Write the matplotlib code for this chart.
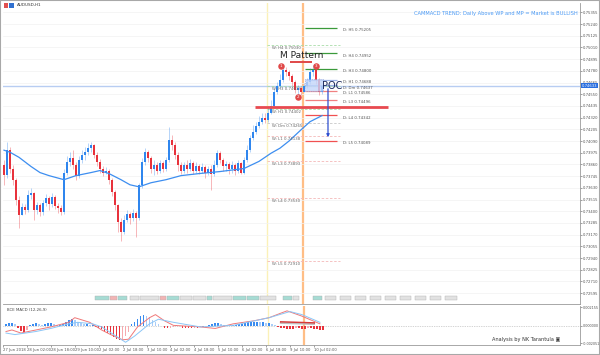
import numpy as np
import matplotlib.pyplot as plt
from matplotlib.patches import Rectangle

# AUDUSD H1 candles (oldest first)
first_open = 0.7385
close = [0.7376, 0.7400, 0.7382, 0.7371, 0.7351, 0.7336, 0.7344, 0.7341, 0.7356, 0.7358,
         0.7341, 0.7346, 0.7339, 0.7348, 0.7353, 0.7347, 0.7354, 0.7345, 0.7343, 0.7339,
         0.7378, 0.7388, 0.7392, 0.7385, 0.7375, 0.7390, 0.7395, 0.7398, 0.7402, 0.7405,
         0.7395, 0.7388, 0.7382, 0.7378, 0.7380, 0.7371, 0.7359, 0.7346, 0.7329, 0.7320,
         0.7331, 0.7337, 0.7333, 0.7338, 0.7333, 0.7366, 0.7388, 0.7398, 0.7392, 0.7382,
         0.7385, 0.7380, 0.7387, 0.7382, 0.7390, 0.7410, 0.7405, 0.7395, 0.7385, 0.7380,
         0.7385, 0.7382, 0.7387, 0.7380, 0.7384, 0.7380, 0.7383, 0.7378, 0.7382, 0.7377,
         0.7385, 0.7397, 0.7390, 0.7384, 0.7386, 0.7382, 0.7385, 0.7380, 0.7387, 0.7378,
         0.7390, 0.7400, 0.7412, 0.7418, 0.7424, 0.7428, 0.7432, 0.7430, 0.7437, 0.7443,
         0.7457, 0.7463, 0.7469, 0.7479, 0.7477, 0.7473, 0.7467, 0.7459, 0.7461, 0.7457,
         0.7463, 0.7467, 0.7477, 0.7479, 0.7469, 0.7457, 0.7463]
high = [0.7390, 0.7408, 0.7403, 0.7385, 0.7373, 0.7355, 0.7348, 0.7347, 0.7361, 0.7363,
        0.7359, 0.7349, 0.7348, 0.7351, 0.7357, 0.7355, 0.7358, 0.7356, 0.7348, 0.7346,
        0.7382, 0.7394, 0.7398, 0.7400, 0.7388, 0.7394, 0.7400, 0.7403, 0.7407, 0.7408,
        0.7406, 0.7398, 0.7391, 0.7384, 0.7383, 0.7382, 0.7373, 0.7361, 0.7347, 0.7333,
        0.7336, 0.7341, 0.7339, 0.7342, 0.7340, 0.7368, 0.7392, 0.7402, 0.7400, 0.7394,
        0.7390, 0.7388, 0.7390, 0.7389, 0.7393, 0.7423, 0.7415, 0.7408, 0.7398, 0.7388,
        0.7388, 0.7390, 0.7391, 0.7389, 0.7388, 0.7386, 0.7387, 0.7385, 0.7384, 0.7385,
        0.7390, 0.7400, 0.7399, 0.7392, 0.7389, 0.7388, 0.7389, 0.7387, 0.7390, 0.7388,
        0.7393, 0.7405, 0.7415, 0.7425, 0.7428, 0.7434, 0.7437, 0.7437, 0.7442, 0.7449,
        0.7461, 0.7467, 0.7475, 0.7484, 0.7482, 0.7479, 0.7475, 0.7469, 0.7464, 0.7463,
        0.7466, 0.7471, 0.7481, 0.7484, 0.7481, 0.7471, 0.7464]
low = [0.7366, 0.7373, 0.7378, 0.7366, 0.7346, 0.7324, 0.7337, 0.7337, 0.7339, 0.7352,
       0.7331, 0.7337, 0.7335, 0.7336, 0.7345, 0.7341, 0.7344, 0.7342, 0.7338, 0.7336,
       0.7337, 0.7376, 0.7384, 0.7382, 0.7371, 0.7373, 0.7387, 0.7390, 0.7395, 0.7398,
       0.7392, 0.7384, 0.7378, 0.7375, 0.7377, 0.7367, 0.7355, 0.7341, 0.7320, 0.7311,
       0.7318, 0.7329, 0.7327, 0.7330, 0.7315, 0.7331, 0.7363, 0.7385, 0.7388, 0.7378,
       0.7376, 0.7377, 0.7378, 0.7379, 0.7380, 0.7388, 0.7400, 0.7391, 0.7380, 0.7377,
       0.7378, 0.7378, 0.7380, 0.7377, 0.7378, 0.7377, 0.7378, 0.7373, 0.7376, 0.7361,
       0.7375, 0.7383, 0.7387, 0.7380, 0.7380, 0.7377, 0.7378, 0.7376, 0.7378, 0.7377,
       0.7377, 0.7388, 0.7398, 0.7410, 0.7416, 0.7422, 0.7426, 0.7427, 0.7428, 0.7436,
       0.7441, 0.7455, 0.7461, 0.7467, 0.7473, 0.7469, 0.7463, 0.7456, 0.7452, 0.7454,
       0.7457, 0.7461, 0.7465, 0.7473, 0.7465, 0.7454, 0.7455]

# moving average, read at some bars
ma_bar = [0, 2, 5, 9, 12, 15, 20, 24, 29, 32, 35, 39, 42, 45, 49, 54, 59, 65, 72, 80,
          85, 89, 92, 95, 99, 102, 106]
ma_val = [0.7400, 0.7398, 0.7393, 0.7384, 0.7378, 0.7375, 0.7371, 0.7375, 0.7378, 0.7380,
          0.7377, 0.7371, 0.7366, 0.7364, 0.7368, 0.7371, 0.7375, 0.7377, 0.7379, 0.7382,
          0.7389, 0.7397, 0.7402, 0.7409, 0.7420, 0.7428, 0.7434]

current_price = 0.74633

# daily pivot levels
d_names = ["H5", "H4", "H3", "H1", "Dm", "L1", "L3", "L4", "L5"]
d_prices = [0.75205, 0.74952, 0.74800, 0.74688, 0.74637, 0.74586, 0.74496, 0.74342, 0.74089]
d_colors = ["#3a9a3a", "#3a9a3a", "#3a9a3a", "#9db4e8", "#9db4e8", "#f08080",
            "#f08080", "#f05050", "#f05050"]

# weekly pivot levels
w_names = ["H4", "H3", "H1", "Dm", "L1", "L3", "L4", "L5"]
w_prices = [0.75030, 0.74633, 0.74402, 0.74265, 0.74138, 0.73893, 0.73530, 0.72910]

# session tag boxes along the bottom of the price panel (bar units, kind)
tag_start = [30.3, 35.3, 38, 42, 45.3, 52, 54.3, 58.7, 63, 67.7, 69.7, 76.3, 81, 85.3,
             93, 96.3, 103, 107, 112, 117, 122, 127, 132, 137, 142, 147]
tag_end = [35.3, 38, 41.3, 45.3, 52, 54.3, 58.7, 63, 67.7, 69.7, 76.3, 81, 85.3, 91,
           96.3, 98.7, 106.3, 111, 116, 121, 126, 131, 136, 141, 146, 151.3]
tag_kind = ["g", "r", "g", "n", "n", "r", "g", "n", "n", "g", "n", "g", "g", "n",
            "g", "n", "g", "n", "n", "n", "n", "n", "n", "n", "n", "n"]

# MACD panel
hist = [2, 3, 3, 2, -3, -6, -7, -5, 1, 2, 3, 2, 1, 2, 3, 3, 2, 1, 1, 2,
        5, 7, 8, 7, 5, 3, 2, 2, 1, 1,
        -1, -2, -4, -7, -9, -11, -13, -15, -17, -16, -12, -7,
        2, 5, 8, 11, 13, 12, 10, 7, 4, 2, 0,
        -2, -3, -2, -1, 1, 0,
        -2, -3, -3, -3, -2, -2, -1, -1, 0,
        1, 2, 3, 3, 2, 1, 1, 0, 1,
        1, 2, 2, 3,
        4, 4, 5, 5, 4, 4, 3, 3, 2, 1,
        -1, -2, -3, -4, -4, -4, -3, -3, -4, -4, -3, -3, -4, -4, -5, -5]
red_bar = [0, 2, 5, 10, 15, 21, 23, 28, 32, 35, 39, 41, 44, 48, 50, 53, 56, 65, 70, 76,
           83, 88, 92, 94, 99, 105]
red_val = [-6.7, -4.9, -8.5, -4.9, -1.3, 4.1, 9.5, 4.1, -4.9, -10.3, -16.4, -15.7, -1.3,
           9.5, 13.1, 5.9, 0.5, -1.3, -3.1, 2.3, 5.9, 9.5, 14.9, 17.5, 11.3, 2.3]
blue_bar = [0, 3, 10, 15, 21, 24, 29, 32, 36, 40, 43, 48, 51, 56, 65, 76, 88, 95, 99, 105]
blue_val = [-8.5, -10.3, -6.7, -3.1, 2.3, 4.1, 2.3, -1.3, -10.3, -19.3, -12.1, 2.3, 7.7,
            4.1, -1.3, 0.5, 9.5, 16.7, 13.1, 4.1]

time_bar = [-1, 7, 15, 23, 31, 39, 47, 55, 63, 71, 79, 87, 95, 103]
time_lab = ["27 Jun 2018", "28 Jun 02:00", "28 Jun 18:00", "29 Jun 10:00", "2 Jul 02:00",
            "2 Jul 18:00", "3 Jul 10:00", "4 Jul 02:00", "4 Jul 18:00", "5 Jul 10:00",
            "6 Jul 02:00", "6 Jul 18:00", "9 Jul 10:00", "10 Jul 02:00"]

bull = "#2f86ee"
bear = "#e8323c"
W, H = 600, 355


def fx(px):
    return px / W


def fy(py):
    return 1 - py / H


fig = plt.figure(figsize=(6, 3.55), dpi=100)
ax = fig.add_axes([fx(3), fy(304), 577 / W, 301 / H])
ax2 = fig.add_axes([fx(3), fy(345), 577 / W, 39 / H])

# candles
x = np.arange(len(close))
c = np.array(close)
o = np.r_[first_open, c[:-1]]
hi = np.maximum(np.array(high), np.maximum(o, c))
lo = np.minimum(np.array(low), np.minimum(o, c))
cols = np.where(c >= o, bull, bear)
ax.vlines(x, lo, hi, colors=cols, lw=0.45, alpha=0.55, zorder=3)
body = np.where(np.abs(c - o) < 0.00003, 0.00003, c - o)
ax.bar(x, body, bottom=o, width=0.5, color=cols, lw=0, zorder=3)

ax.plot(ma_bar, ma_val, color="#3d8ef0", lw=0.9, zorder=4)

# vertical session lines
for a in (ax, ax2):
    a.axvline(87.7, color="#fbf1b8", lw=1.0, zorder=1)
    a.axvline(99.7, color="#ffbe86", lw=1.6, zorder=1)

# current price line
ax.axhline(current_price, color="#b8cdf2", lw=1.0, zorder=2)

# weekly levels
for n, p in zip(w_names, w_prices):
    col = "#a8dca8" if n.startswith("H") else ("#f4b8b8" if n.startswith("L") else "#c8c8c8")
    ax.hlines(p, 87.7, 112, colors=col, lw=0.6, linestyles=(0, (3, 2)), zorder=2)
    ax.text(89.3, p - 0.00008, "W: %s %.5f" % (n, p), fontsize=2.8, color="#666666",
            va="top", zorder=5)

# daily levels
for n, p, col in zip(d_names, d_prices, d_colors):
    ax.hlines(p, 100.3, 111, colors=col, lw=0.9, zorder=2)
    ax.text(113, p - 0.00002, "D: %s %.5f" % (n, p), fontsize=2.8, color="#555555",
            va="top", zorder=5)

# thick red resistance line
ax.hlines(0.74424, 83.7, 128, colors="#e84a50", lw=2.0, zorder=5)

# M pattern
ax.text(99.3, 0.7493, "M Pattern", fontsize=6.5, color="#222222", ha="center", va="center",
        zorder=6)
ax.hlines(0.74867, 95.3, 102.7, colors="#e04848", lw=1.4, zorder=6)
for k, (bx, py) in enumerate([(92.3, 0.74827), (98.0, 0.74523), (104.0, 0.74827)]):
    ax.scatter(bx, py, s=22, color="#e04848", zorder=7, lw=0)
    ax.text(bx, py, str(k + 1), fontsize=3, color="white", ha="center", va="center",
            zorder=8)

# POC box and arrow
ax.add_patch(Rectangle((100.3, 0.74582), 6.0, 0.00118, facecolor="#c4d6fa", alpha=0.8,
                       edgecolor="#6a80c8", lw=0.5, ls=":", zorder=5))
ax.text(106, 0.74631, "POC", fontsize=7, color="#1c2a5c", va="center", zorder=6)
ax.annotate("", xy=(108, 0.74100), xytext=(108, 0.74631),
            arrowprops=dict(arrowstyle="-|>", color="#3050d0", lw=0.9, mutation_scale=4),
            zorder=6)

# session tags
tag_fc = {"g": "#a6dcd4", "r": "#f2b4b4", "n": "#e2e2e2"}
for s0, s1, k in zip(tag_start, tag_end, tag_kind):
    ax.add_patch(Rectangle((s0, 0.72525), s1 - s0 - 0.3, 0.00045, facecolor=tag_fc[k],
                           edgecolor="#b0b0b0", lw=0.3, zorder=6))

ax.set_xlim(-0.33, 192)
ax.set_ylim(0.72488, 0.75447)
ax2.set_xlim(-0.33, 192)
ax2.set_ylim(-0.00225, 0.00232)

ax.yaxis.tick_right()
ticks = np.round(0.75355 - 0.00115 * np.arange(25), 5)
ax.set_yticks(ticks)
ax.set_yticklabels(["%.5f" % t for t in ticks])
ax.set_xticks([])
ax.grid(axis="y", color="#f2f2f2", lw=0.5)
ax.grid(axis="x", color="#f2f2f2", lw=0.5)

# MACD panel
hv = np.array(hist) * 1e-4
prev = np.r_[hv[0], hv[:-1]]
hcol = np.where(hv >= 0, np.where(hv >= prev, "#3a8cf0", "#a9cdf8"),
                np.where(hv <= prev, "#e8323c", "#f6aaae"))
ax2.bar(x, hv, width=0.55, color=hcol, lw=0, zorder=3)
ax2.plot(red_bar, np.array(red_val) * 1e-4, color="#f07878", lw=0.7, zorder=4)
ax2.plot(blue_bar, np.array(blue_val) * 1e-4, color="#8cc6f6", lw=0.7, zorder=4)
ax2.axhline(0, color="#aaaaaa", lw=0.5, ls=(0, (1, 1.5)), zorder=2)
ax2.plot([92, 103], [0.00042, 0.00030], color="#d83838", lw=1.6, zorder=5)
ax2.plot([92, 103], [0.00030, 0.00018], color="#c0c0c0", lw=1.0, zorder=5)
ax2.text(0.5, 0.0021, "BCE MACD (12,26,9)", fontsize=2.8, color="#444444", va="top")

ax2.yaxis.tick_right()
ax2.set_yticks([0.002155, 0.0, -0.002051])
ax2.set_yticklabels(["0.002155", "0.000000", "-0.002051"])
ax2.set_xticks(time_bar)
ax2.set_xticklabels(time_lab, ha="left")

for a in (ax, ax2):
    a.tick_params(labelsize=2.7, colors="#555555", length=1.5, width=0.4, pad=0.8)
    for s in a.spines.values():
        s.set_color("#9a9a9a")
        s.set_linewidth(0.6)
    a.spines["left"].set_visible(False)
    a.spines["top"].set_visible(False)
ax2.tick_params(axis="y", labelsize=2.4, pad=0.6)

# price tag
fig.text(fx(582), fy(85.8), "0.74633", fontsize=2.7, color="white", va="center",
         bbox=dict(boxstyle="square,pad=0.15", fc="#2a6fe0", ec="none"))

fig.text(fx(578), fy(14), "CAMMACD TREND: Daily Above WP and MP = Market is BULLISH",
         fontsize=3.7, color="#4a9af5", ha="right", va="center")
fig.text(fx(17), fy(5.5), "AUDUSD,H1", fontsize=3, color="#333333", va="center")
fig.patches.append(Rectangle((fx(4), fy(8)), 4 / W, 5 / H, transform=fig.transFigure,
                             facecolor="#e05050", edgecolor="none"))
fig.patches.append(Rectangle((fx(9), fy(8)), 5 / W, 5 / H, transform=fig.transFigure,
                             facecolor="#3070d0", edgecolor="none"))
fig.text(fx(492), fy(340), "Analysis by NK Tarantula \u25a3", fontsize=3.6,
         color="#333333", va="center")

fig.patches.append(Rectangle((0, 0), 1, 1, transform=fig.transFigure, fill=False,
                             edgecolor="#a8a8a8", lw=1.5))

fig.savefig("out.png", dpi=100, facecolor="white")
